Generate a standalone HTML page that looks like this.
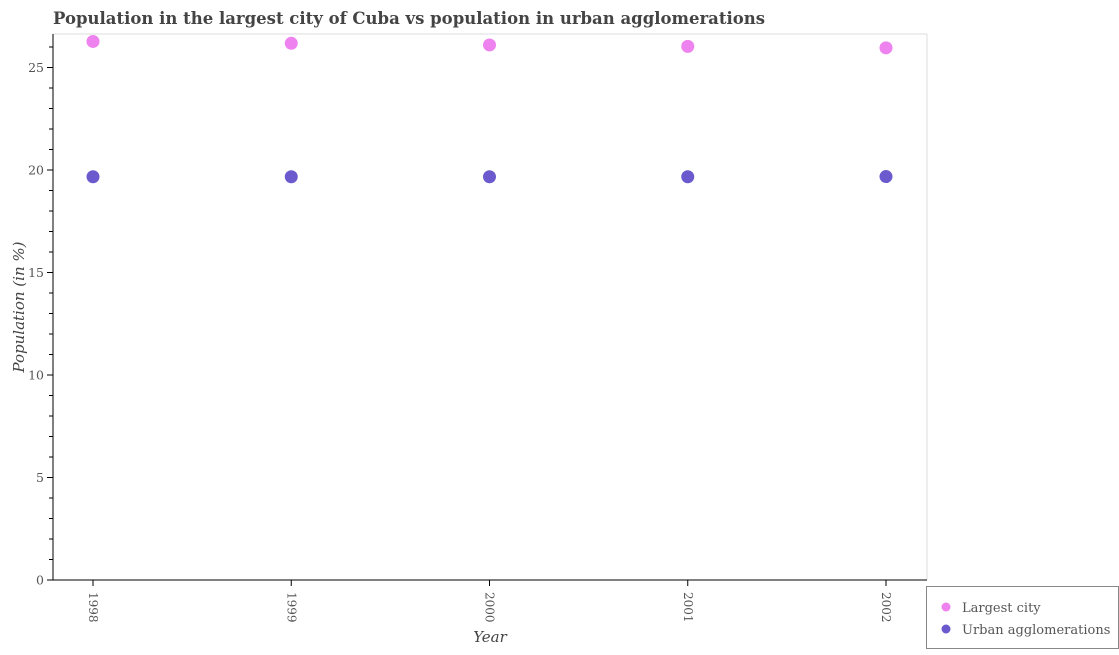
<!DOCTYPE html>
<html><head><meta charset="utf-8"><style>
body{margin:0;background:#fff;}
svg text{font-family:"DejaVu Serif","Liberation Serif",serif;}
</style></head><body>
<svg width="1119" height="650" xmlns="http://www.w3.org/2000/svg">
<text x="53" y="24" font-size="16.5" font-weight="bold" fill="#444">Population in the largest city of Cuba vs population in urban agglomerations</text>
<line x1="53" y1="34" x2="927" y2="34" stroke="#ddd"/>
<line x1="927" y1="34" x2="927" y2="580" stroke="#ddd"/>
<g id="axes"></g>
<g id="marks"></g>
<text transform="translate(24,307) rotate(-90)" text-anchor="middle" font-size="15" font-style="italic" fill="#444">Population (in %)</text>
<text x="490" y="642" text-anchor="middle" font-size="15" font-style="italic" fill="#444">Year</text>
<g>
<rect x="926.5" y="586.5" width="192" height="62" fill="#fff" stroke="#888"/>
<circle cx="946" cy="607" r="4.5" fill="#ee82ee"/>
<text x="962" y="612" font-size="13" fill="#555">Largest city</text>
<circle cx="946" cy="629" r="4.5" fill="#6a5acd"/>
<text x="962" y="634" font-size="13" fill="#555">Urban agglomerations</text>
</g>
</svg>
<script>
const years=["1998","1999","2000","2001","2002"];
const largestCity=[26.27,26.18,26.10,26.03,25.96];
const urban=[19.67,19.67,19.67,19.67,19.68];
const yTicks=[0,5,10,15,20,25];
const NS="http://www.w3.org/2000/svg";
const x0=93,dx=198.25,yZero=580,pxPerUnit=20.5;
function xs(i){return x0+i*dx;}
function ys(v){return yZero-v*pxPerUnit;}
function mk(tag,attrs,parent){const e=document.createElementNS(NS,tag);for(const k in attrs)e.setAttribute(k,attrs[k]);parent.appendChild(e);return e;}
const axes=document.getElementById('axes'),marks=document.getElementById('marks');
let l=mk('line',{x1:53,y1:34,x2:53,y2:580,stroke:'#000','stroke-width':1},axes);


l=mk('line',{x1:48,y1:580,x2:927,y2:580,stroke:'#000','stroke-width':1},axes);


for(let v=1;v<=26;v++){if(v%5===0)continue;const t=mk('line',{x1:49,x2:53,y1:ys(v),y2:ys(v),stroke:'#000'},axes);

}
yTicks.forEach(v=>{const t=mk('line',{x1:47,x2:53,y1:ys(v),y2:ys(v),stroke:'#000'},axes);


const tx=mk('text',{x:44,y:ys(v)+4.5,'text-anchor':'end','font-size':12.5,fill:'#555'},axes);tx.textContent=v;

});
years.forEach((y,i)=>{const t=mk('line',{x1:xs(i),x2:xs(i),y1:580,y2:586,stroke:'#000'},axes);


const tx=mk('text',{transform:`translate(${xs(i)-4},592) rotate(90)`,'font-size':12,fill:'#555'},axes);tx.textContent=y;

});
largestCity.forEach((v,i)=>{const c=mk('circle',{cx:xs(i),cy:ys(v),r:6.5,fill:'#ee82ee'},marks);

});
urban.forEach((v,i)=>{const c=mk('circle',{cx:xs(i),cy:ys(v),r:6.5,fill:'#6a5acd'},marks);

});
</script>
</body></html>
